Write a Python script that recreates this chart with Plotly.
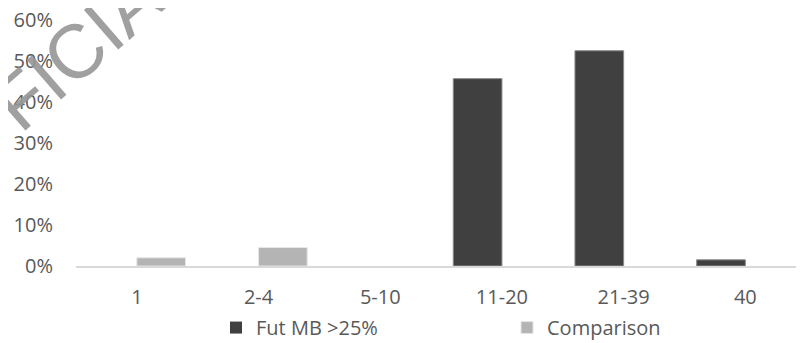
import plotly.graph_objects as go

categories = ["1", "2-4", "5-10", "11-20", "21-39", "40"]
fut_mb = [0.0, 0.0, 0.0, 0.457, 0.525, 0.015]
comparison = [0.02, 0.045, 0.0, 0.0, 0.0, 0.0]
y_ticks = [0, 0.1, 0.2, 0.3, 0.4, 0.5, 0.6]

FONT = "Open Sans"
TXT = "#595959"

fig = go.Figure()
fig.add_trace(go.Bar(
    x=categories, y=fut_mb, name="Fut MB >25%",
    marker=dict(color="#404040",
                line=dict(color="#8a8a8a", width=[1 if v else 0 for v in fut_mb])),
))
fig.add_trace(go.Bar(
    x=categories, y=comparison, name="Comparison",
    marker=dict(color="#b4b4b4",
                line=dict(color="#e6e6e6", width=[1 if v else 0 for v in comparison])),
))

# page body has an 8px default margin, so the figure is 8px smaller
fig.update_layout(
    width=796, height=335,
    margin=dict(l=68, r=0, t=12, b=77, autoexpand=False),
    paper_bgcolor="white", plot_bgcolor="white",
    barmode="group", bargap=0.2, bargroupgap=0,
    font=dict(family=FONT, size=20, color=TXT),
    showlegend=True,
    legend=dict(orientation="h", x=140 / 728, xanchor="left",
                y=-0.171, yanchor="top",
                entrywidth=246, font=dict(size=20, color=TXT),
                itemclick=False, traceorder="normal"),
    xaxis=dict(type="category", range=[-0.5, 5.482], showline=True,
               linecolor="#d9d9d9", linewidth=2, ticks="", showgrid=False,
               ticklabelstandoff=12, tickfont=dict(size=20, color=TXT)),
    yaxis=dict(range=[0, 0.6], tickvals=y_ticks, tickformat=".0%",
               showgrid=False, zeroline=False, showline=False, ticks="",
               ticklabelstandoff=22, ticklabeloverflow="allow",
               tickfont=dict(size=20, color=TXT)),
)

fig.add_annotation(
    text="UNOFFICIAL", xref="paper", yref="paper",
    x=(11 - 76) / 728, y=(266 - 107) / 246,
    xanchor="center", yanchor="middle", showarrow=False,
    textangle=-41,
    font=dict(family="Liberation Sans", size=76, color="rgba(150,150,150,0.9)"),
)

fig.write_html("out.html")
